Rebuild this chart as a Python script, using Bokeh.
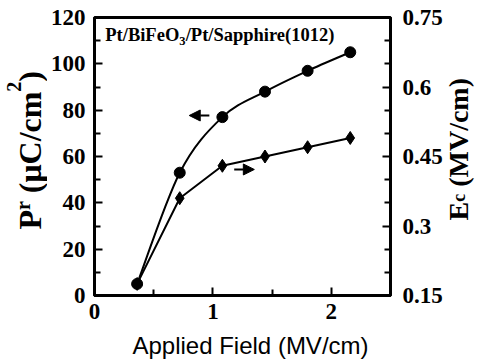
import numpy as np
from bokeh.plotting import figure
from bokeh.layouts import row, column
from bokeh.models import Range1d, LinearAxis, FixedTicker, Label, Arrow, NormalHead
from bokeh.embed import file_html
from bokeh.resources import INLINE

# ---- data ----
field = [0.36, 0.72, 1.08, 1.44, 1.80, 2.16]          # Applied field (MV/cm)
pr = [5, 53, 77, 88, 97, 105]                          # Pr (uC/cm^2), left axis
ec = [0.175, 0.36, 0.43, 0.45, 0.47, 0.49]             # Ec (MV/cm), right axis

x_major = [0, 1, 2]
x_minor = [0.5, 1.5, 2.5]
left_major = [0, 20, 40, 60, 80, 100, 120]
left_minor = [10, 30, 50, 70, 90, 110]
right_major = [0.15, 0.3, 0.45, 0.6, 0.75]
right_labels = ["0.15", "0.3", "0.45", "0.6", "0.75"]
right_minor = [0.2, 0.25, 0.35, 0.4, 0.5, 0.55, 0.65, 0.7]

title_text = ["Pt/BiFeO", "3", "/Pt/Sapphire(1012)"]
left_label = ["P", "r", " (\u03bcC/cm", "2", ")"]
right_label = ["E", "c", " (MV/cm)"]
x_label = "Applied Field (MV/cm)"

SERIF = "Liberation Serif"
SANS = "Liberation Sans"
MID_SERIF = 0.3375   # (ascent - descent) / 2 of Liberation Serif, in em
MID_SANS = 0.3465

# Times/Liberation Serif Bold advance widths (per 1000 em) for label layout
W = {"P": 611, "r": 444, " ": 250, "(": 333, ")": 333, "\u03bc": 556, "C": 722,
     "/": 278, "c": 444, "m": 833, "2": 500, "E": 667, "M": 944, "V": 722,
     "t": 333, "B": 667, "i": 278, "F": 611, "e": 444, "O": 778, "3": 500,
     "S": 556, "a": 500, "p": 556, "h": 556, "1": 500, "0": 500}


def adv(s, size):
    return sum(W.get(ch, 500) for ch in s) / 1000.0 * size


TOP_H = 330      # height of the row holding the chart
LEFT_W = 47
RIGHT_W = 32
MAIN_W = 477 - LEFT_W - RIGHT_W
BOTTOM_H = 359 - TOP_H

p = figure(width=MAIN_W, height=TOP_H, x_range=Range1d(0, 2.5), y_range=Range1d(0, 120),
           output_backend="svg", toolbar_location=None,
           min_border_left=91 - LEFT_W, min_border_right=477 - RIGHT_W - 392,
           min_border_top=17, min_border_bottom=TOP_H - 295)
p.grid.visible = False
p.outline_line_color = "black"
p.outline_line_width = 3
p.background_fill_color = "white"
p.border_fill_color = "white"

p.extra_y_ranges = {"ec": Range1d(0.15, 0.75)}
right_axis = LinearAxis(y_range_name="ec")
p.add_layout(right_axis, "right")


def style_axis(ax, major, minor, standoff):
    ax.ticker = FixedTicker(ticks=major, minor_ticks=minor)
    ax.axis_line_width = 3
    ax.axis_line_color = "black"
    ax.major_tick_in = 8
    ax.major_tick_out = 0
    ax.minor_tick_in = 6
    ax.minor_tick_out = 0
    ax.major_tick_line_width = 2
    ax.minor_tick_line_width = 2
    ax.major_label_text_font = SERIF
    ax.major_label_text_font_style = "bold"
    ax.major_label_text_font_size = "23px"
    ax.major_label_text_color = "black"
    ax.major_label_standoff = standoff


style_axis(p.xaxis[0], x_major, x_minor, 8)
style_axis(p.yaxis[0], left_major, left_minor, 9)
style_axis(right_axis, right_major, right_minor, 12)
right_axis.major_label_overrides = {v: s for v, s in zip(right_major, right_labels)}

# ---- Pr: smooth curve through the points (Catmull-Rom as Bezier) ----
xs = np.array(field, dtype=float)
ys = np.array(pr, dtype=float)
n = len(xs)
xe = np.concatenate([[xs[0]], xs, [xs[-1]]])
ye = np.concatenate([[ys[0]], ys, [ys[-1]]])
cx0 = xs[:-1] + (xe[2:n + 1] - xe[0:n - 1]) / 6.0
cy0 = ys[:-1] + (ye[2:n + 1] - ye[0:n - 1]) / 6.0
cx1 = xs[1:] - (xe[3:n + 2] - xe[1:n]) / 6.0
cy1 = ys[1:] - (ye[3:n + 2] - ye[1:n]) / 6.0
p.bezier(x0=xs[:-1], y0=ys[:-1], x1=xs[1:], y1=ys[1:], cx0=cx0, cy0=cy0, cx1=cx1, cy1=cy1,
         line_color="black", line_width=2)
p.scatter(field, pr, marker="circle", size=11, fill_color="black", line_color="black")

# ---- Ec on the right axis ----
p.line(field, ec, y_range_name="ec", line_color="black", line_width=2)
p.scatter(field, ec, y_range_name="ec", marker="diamond", size=13,
          fill_color="black", line_color="black")

# ---- arrows pointing at the axis of each series ----
left_arrow = dict(x_start=0.97, x_end=0.80, y=77.7)
right_arrow = dict(x_start=1.18, x_end=1.35, y=54.4)
for a in (left_arrow, right_arrow):
    p.add_layout(Arrow(end=NormalHead(size=11, fill_color="black", line_color="black"),
                       x_start=a["x_start"], y_start=a["y"], x_end=a["x_end"], y_end=a["y"],
                       line_width=2, line_color="black"))


def add_pieces(fig, ax, ay, start_dx, start_dy, pieces, vertical, font, style, mid=MID_SERIF):
    """All pieces hang from one anchor (ax, ay) with pixel offsets.
    (start_dx, start_dy): baseline start relative to the anchor, px (right, up).
    pieces: (text, size px, shift px down from baseline); vertical reads bottom to top."""
    off = 0.0
    for text, size, shift in pieces:
        lead = len(text) - len(text.lstrip(" "))
        off += adv(" " * lead, size)
        text = text.lstrip(" ")
        a = adv(text, size)
        common = dict(x=ax, y=ay, text=text, text_font=font, text_font_style=style,
                      text_font_size=f"{size}px", text_baseline="middle",
                      text_align="center", text_color="black")
        up = mid * size - shift            # centre of the piece above the baseline
        if vertical:
            lab = Label(angle=np.pi / 2, x_offset=start_dx - up,
                        y_offset=start_dy + off + a / 2, **common)
        else:
            lab = Label(x_offset=start_dx + off + a / 2, y_offset=start_dy + up, **common)
        fig.add_layout(lab)
        off += a


# title inside the frame (anchor in data units of the chart)
add_pieces(p, 0.091, 109.6, 0, 0,
           [(title_text[0], 18.5, 0), (title_text[1], 12.5, 4), (title_text[2], 18.5, 0)],
           False, SERIF, "bold")


def blank(w, h):
    f = figure(width=w, height=h, x_range=Range1d(0, w), y_range=Range1d(0, h),
               output_backend="svg", toolbar_location=None,
               x_axis_type=None, y_axis_type=None, min_border=0)
    f.outline_line_color = None
    f.background_fill_color = "white"
    f.border_fill_color = "white"
    return f


# left strip: vertical title of the left axis; anchor at the strip centre
left_fig = blank(LEFT_W, TOP_H)
add_pieces(left_fig, LEFT_W / 2, TOP_H / 2, 40 - LEFT_W / 2, TOP_H / 2 - 238,
           [(left_label[0], 32, 0), (left_label[1], 20, -11), (left_label[2], 32, 0),
            (left_label[3], 20, -20), (left_label[4], 32, 0)],
           True, SERIF, "bold")

# right strip: vertical title of the right axis
right_fig = blank(RIGHT_W, TOP_H)
add_pieces(right_fig, RIGHT_W / 2, TOP_H / 2, (467 - (477 - RIGHT_W)) - RIGHT_W / 2, TOP_H / 2 - 229,
           [(right_label[0], 28, 0), (right_label[1], 18, -2), (right_label[2], 28, 0)],
           True, SERIF, "bold")

# bottom strip: x axis title, centred at x=250 px, baseline at y=353 px of the page
bottom_fig = blank(477, BOTTOM_H)
bottom_fig.add_layout(Label(x=477 / 2, y=BOTTOM_H / 2, x_offset=250 - 477 / 2,
                            y_offset=(TOP_H + BOTTOM_H / 2) - (353 - MID_SANS * 24),
                            text=x_label, text_align="center", text_baseline="middle",
                            text_font=SANS, text_font_size="24px", text_color="black"))

layout = column(row(left_fig, p, right_fig, spacing=0), bottom_fig, spacing=0)
open("out.html", "w").write(file_html(layout, INLINE))
